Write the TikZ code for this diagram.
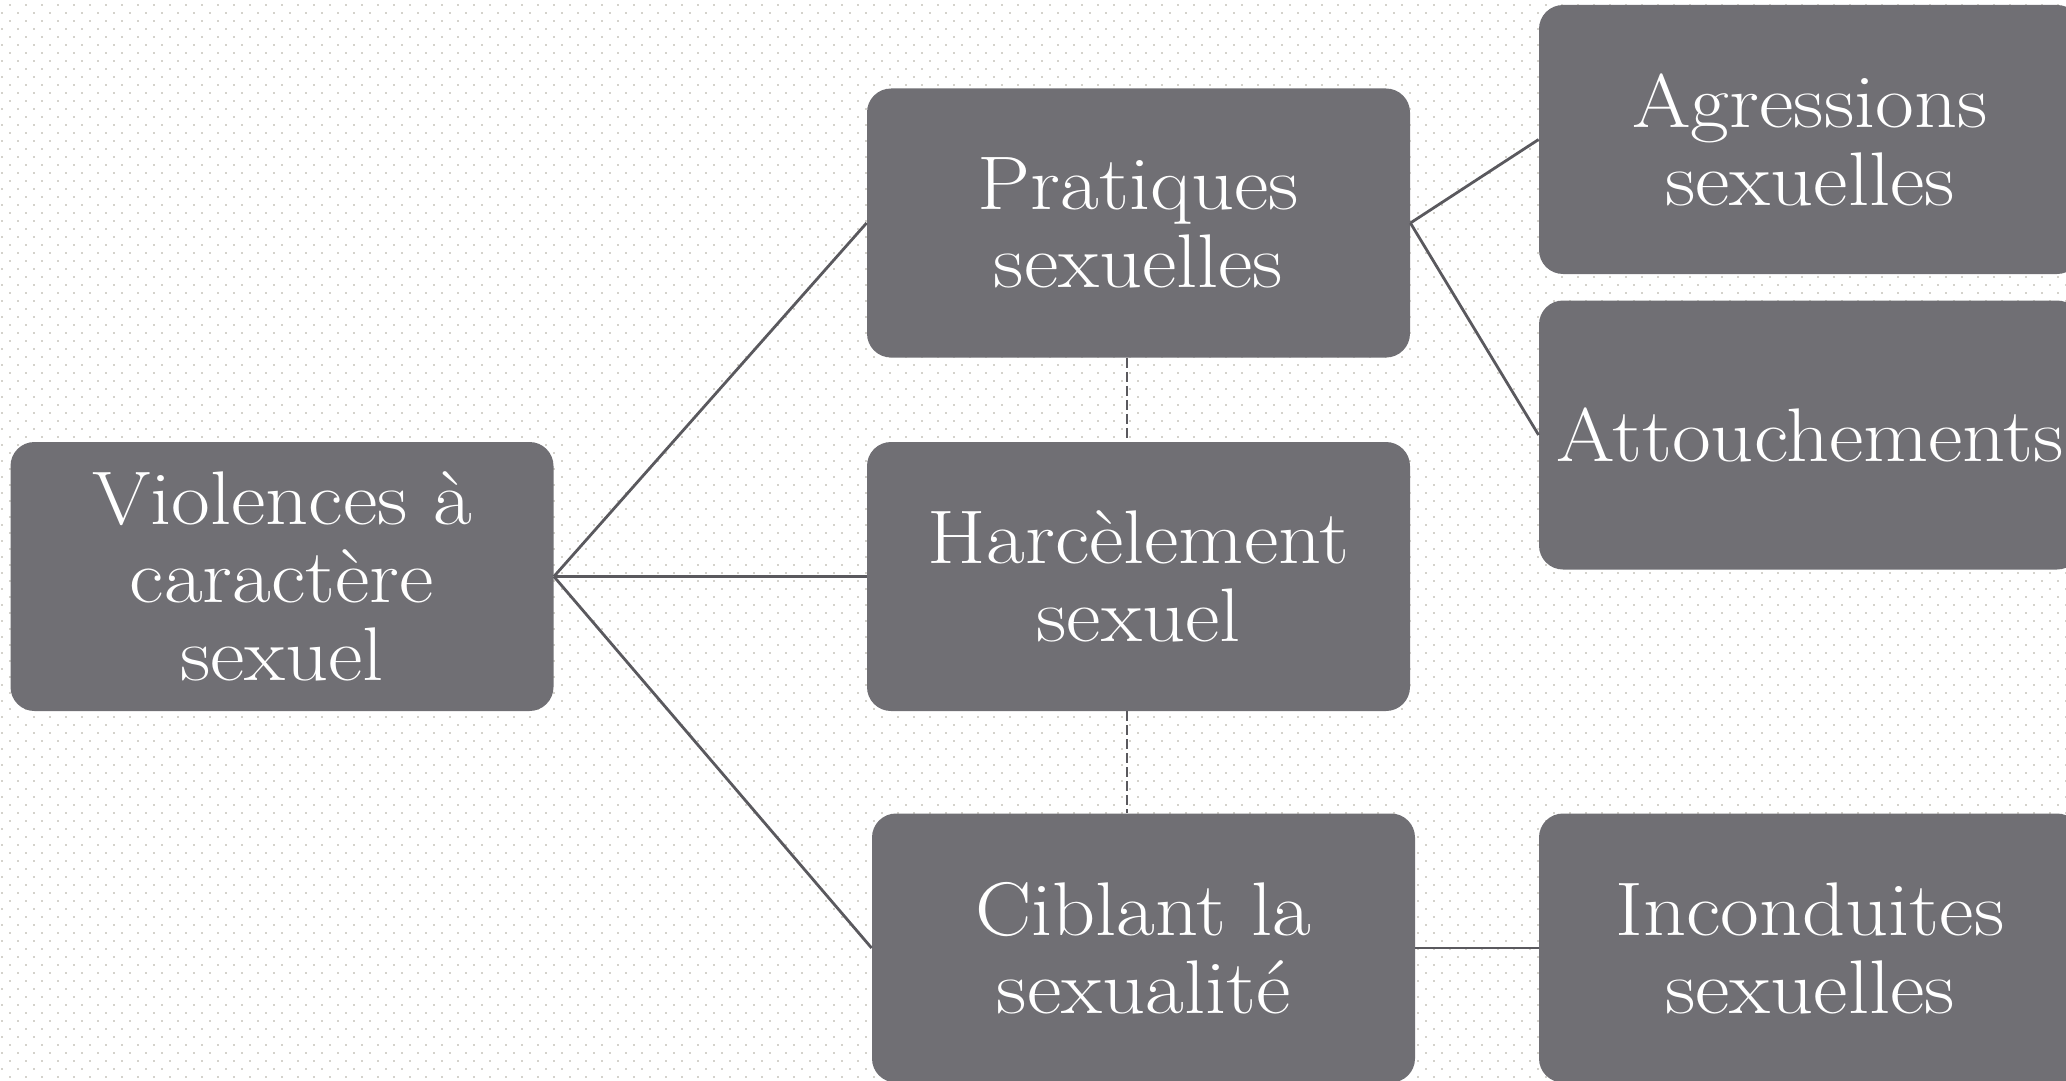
\documentclass[tikz,border=0pt]{standalone}
\usepackage{fontspec}
\usetikzlibrary{calc}
\definecolor{boxgray}{RGB}{112,111,116}
\definecolor{linegray}{RGB}{90,89,94}
\definecolor{dotgray}{RGB}{212,210,204}
\newfontfamily\boxfont{Latin Modern Roman}[FakeStretch=1.11]
\tikzset{
  box/.style={draw=none, fill=boxgray, rounded corners=12pt, inner sep=0pt,
    minimum width=271.5pt, minimum height=134.5pt, text=white, align=center,
    font=\boxfont\fontsize{38}{39}\selectfont},
  rbox/.style={box, minimum width=271pt},
  conn/.style={draw=linegray, line width=1.4pt},
  dashconn/.style={draw=linegray, line width=0.8pt, dash pattern=on 5pt off 2pt},
  dotrow/.style={draw=dotgray, line width=1pt, dash pattern=on 1pt off 7pt}
}
\begin{document}
\begin{tikzpicture}[x=0.5pt, y=-0.5pt]
\useasboundingbox (0,0) rectangle (2066,1081);
\fill[white] (0,0) rectangle (2066,1081);
\begin{scope}
\clip (0,0) rectangle (2066,1081);
\foreach \k in {0,...,134} {
  \pgfmathsetmacro\yy{5+8*\k}
  \pgfmathsetmacro\xs{ifthenelse(mod(\k,2)==0,9,1)}
  \draw[dotrow] (\xs,\yy) -- (2066,\yy);
}
\node[box] (L) at (282,576.5) {Violences à\\caractère\\sexuel};
\node[box] (P) at (1138.5,223) {Pratiques\\sexuelles};
\node[box] (H) at (1138.5,576.5) {Harcèlement\\sexuel};
\node[box] (C) at (1143.5,948) {Ciblant la\\sexualité};
\node[rbox] (A) at (1810,139.5) {Agressions\\sexuelles};
\node[rbox] (T) at (1810,435) {Attouchements};
\node[rbox] (I) at (1810,948) {Inconduites\\sexuelles};
\draw[conn] (L.east) -- (P.west);
\draw[conn] (L.east) -- (H.west);
\draw[conn] (L.east) -- (C.west);
\draw[conn] (P.east) -- (A.west);
\draw[conn] (P.east) -- (T.west);
\draw[conn] (C.east) -- (I.west);
\draw[dashconn] ([xshift=-5.75pt]P.south) -- ([xshift=-5.75pt]H.north);
\draw[dashconn] ([xshift=-5.75pt]H.south) -- ([xshift=-8.25pt]C.north);
\end{scope}
\end{tikzpicture}
\end{document}
